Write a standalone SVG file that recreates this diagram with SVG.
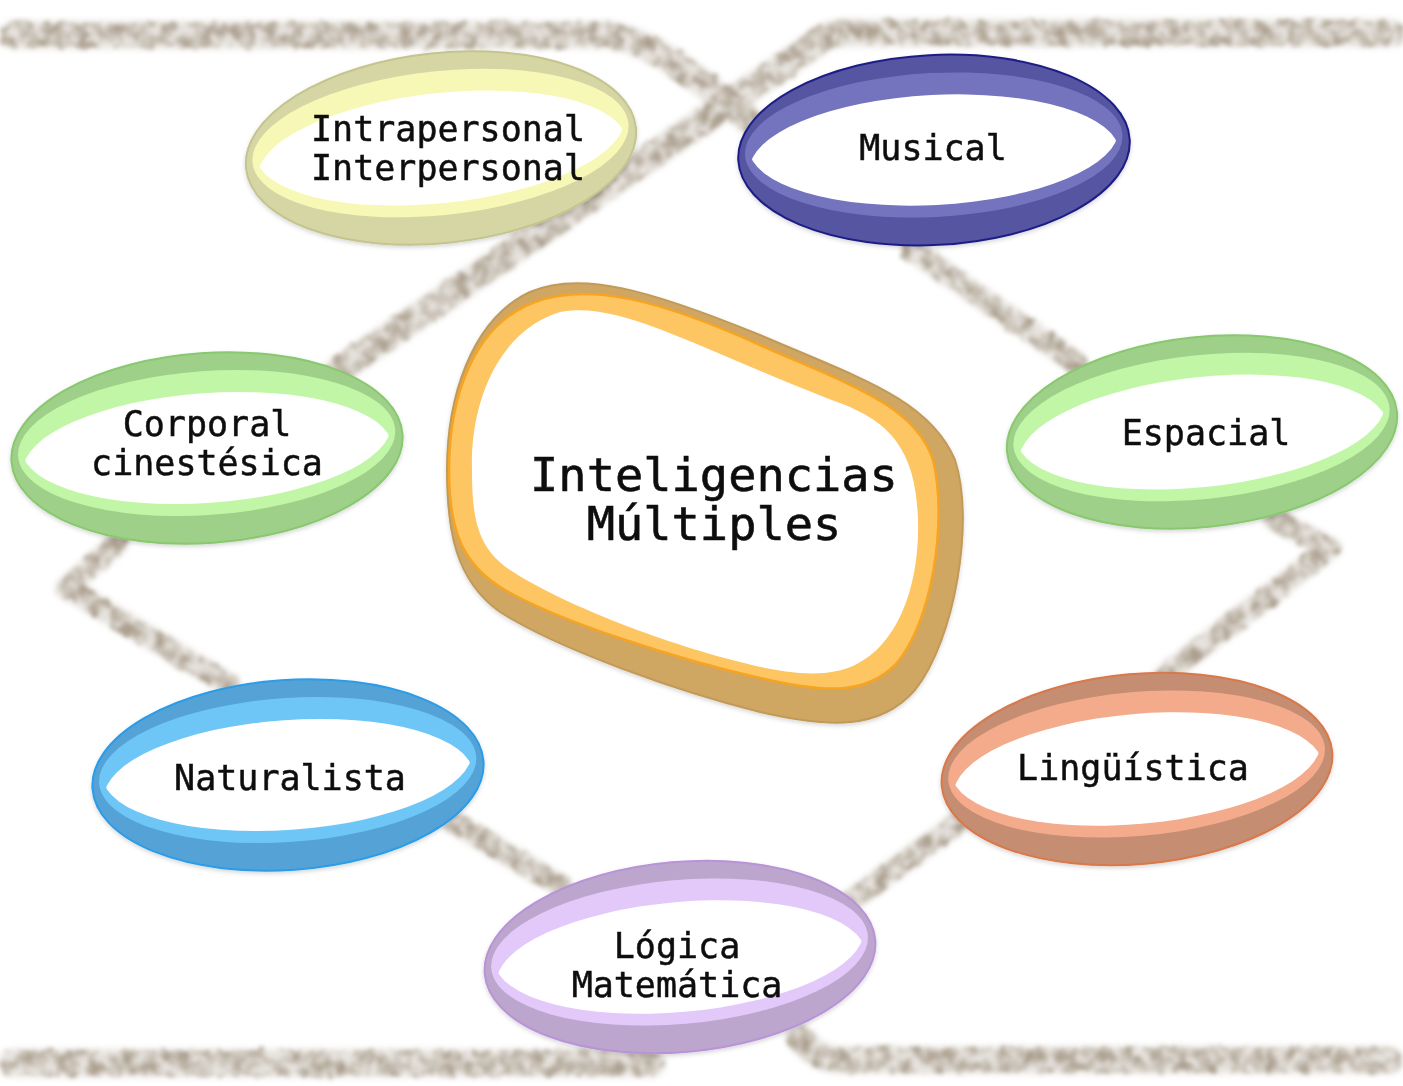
<svg xmlns="http://www.w3.org/2000/svg" width="1403" height="1086" viewBox="0 0 1403 1086">
  <defs>
    <style>
      .chalk{fill:none;stroke:#ab9f8e;stroke-linecap:round;stroke-linejoin:round}
      .wide{stroke-width:26}
      .thin{stroke-width:21}
      .lbl{font-family:"DejaVu Sans Mono","Liberation Mono",monospace;font-size:35px;fill:#111;stroke:#111;stroke-width:0.5;text-anchor:middle}
      .big{font-size:47px;stroke-width:0.6}
      .hole{fill:#fff}
      .yel .o{fill:#d6d6a5;stroke:#c4c48e}
      .yel .i{fill:#f8f8b6}
      .nav .o{fill:#5454a2;stroke:#1e1e86}
      .nav .i{fill:#7373be}
      .grn .o{fill:#9fd089;stroke:#88c86e}
      .grn .i{fill:#c1f6a6}
      .blu .o{fill:#55a3d6;stroke:#2a9ce8}
      .blu .i{fill:#6ec6f7}
      .brn .o{fill:#c58d72;stroke:#d9784a}
      .brn .i{fill:#f3ab8c}
      .lav .o{fill:#bda6cd;stroke:#b993d8}
      .lav .i{fill:#e3c9fa}
      .o{stroke-width:2}
    </style>
    <!-- upper half of the almond-shaped opening; intersected with the lower half below -->
    <clipPath id="lens"><ellipse cy="-11" rx="185" ry="66"/></clipPath>
    <!-- grainy chalk texture for the connecting strokes -->
    <filter id="chalk" filterUnits="userSpaceOnUse" x="0" y="0" width="1403" height="1086">
      <feTurbulence type="fractalNoise" baseFrequency="0.09 0.08" numOctaves="3" seed="7" result="noise"/>
      <feColorMatrix in="noise" type="matrix" values="0 0 0 0 0  0 0 0 0 0  0 0 0 0 0  2.5 0 0 0 -0.85" result="mask"/>
      <feComposite in="SourceGraphic" in2="mask" operator="in" result="grain"/>
      <feDisplacementMap in="grain" in2="noise" scale="10" xChannelSelector="G" yChannelSelector="B" result="shift"/>
      <feGaussianBlur in="shift" stdDeviation="1.9" result="g"/>
      <feGaussianBlur in="SourceGraphic" stdDeviation="3.5" result="soft"/>
      <feComponentTransfer in="soft" result="haze"><feFuncA type="linear" slope="0.3"/></feComponentTransfer>
      <feMerge><feMergeNode in="haze"/><feMergeNode in="g"/></feMerge>
    </filter>
    <filter id="shade" x="-10%" y="-10%" width="120%" height="125%">
      <feDropShadow dx="0" dy="2" stdDeviation="2" flood-color="#000" flood-opacity="0.16"/>
    </filter>
  </defs>

  <rect width="1403" height="1086" fill="#fff"/>

  <!-- chalk connectors -->
  <g id="connectors" filter="url(#chalk)">
    <path class="chalk wide" d="M 12 35 H 605 C 640 37 680 62 755 125"/>
    <path class="chalk wide" d="M 1392 33 H 845 C 830 33 822 37 812 46 L 335 373"/>
    <path class="chalk thin" d="M 912 250 L 1075 362"/>
    <path class="chalk thin" d="M 1275 520 L 1330 548 L 1165 675"/>
    <path class="chalk thin" d="M 118 542 L 67 588 L 228 684"/>
    <path class="chalk thin" d="M 452 822 L 560 885"/>
    <path class="chalk thin" d="M 852 900 L 962 820"/>
    <path class="chalk wide" d="M 12 1063 H 652"/>
    <path class="chalk wide" d="M 800 1038 C 812 1052 822 1060 845 1060 H 1390"/>
  </g>

  <!-- central node -->
  <g id="node-centro" filter="url(#shade)">
    <path d="M 447 470 C 447 400 470 320 530 292 C 580 270 650 290 760 335 C 860 378 930 400 955 460 C 975 520 955 640 915 690 C 880 730 830 728 760 712 C 680 692 560 650 500 612 C 455 580 447 530 447 470 Z" fill="#d0a664" stroke="#c29a58" stroke-width="2"/>
    <path d="M 449 470 C 449 400 472 325 535 302 C 590 282 660 300 760 345 C 850 385 915 405 933 460 C 948 520 932 625 895 665 C 865 695 825 693 760 678 C 680 660 560 622 505 590 C 462 565 449 530 449 470 Z" fill="#fdc664" stroke="#f6a421" stroke-width="2.5"/>
    <path class="hole" d="M 472 470 C 470 400 500 330 560 312 C 620 300 700 350 840 403 C 890 422 916 450 918 520 C 920 585 898 645 855 665 C 828 678 790 675 740 662 C 660 642 560 603 510 570 C 478 548 472 520 472 470 Z"/>
    <text class="lbl big" x="714" y="491">Inteligencias</text>
    <text class="lbl big" x="714" y="540">Múltiples</text>
  </g>

  <g id="node-intrapersonal" class="yel" filter="url(#shade)">
    <g transform="translate(441 148) rotate(-6)">
      <ellipse class="o" rx="196" ry="95"/>
      <ellipse class="i" cy="-5" rx="189" ry="72"/>
      <ellipse class="hole" cy="11" rx="185" ry="66" clip-path="url(#lens)"/>
    </g>
    <text class="lbl" x="448" y="141">Intrapersonal</text>
    <text class="lbl" x="448" y="180">Interpersonal</text>
  </g>

  <g id="node-musical" class="nav" filter="url(#shade)">
    <g transform="translate(934 150) rotate(-3)">
      <ellipse class="o" rx="196" ry="95"/>
      <ellipse class="i" cy="-5" rx="189" ry="72"/>
      <ellipse class="hole" cy="11" rx="185" ry="66" clip-path="url(#lens)"/>
    </g>
    <text class="lbl" x="933" y="160">Musical</text>
  </g>

  <g id="node-corporal" class="grn" filter="url(#shade)">
    <g transform="translate(207 448) rotate(-4)">
      <ellipse class="o" rx="196" ry="95"/>
      <ellipse class="i" cy="-5" rx="189" ry="72"/>
      <ellipse class="hole" cy="11" rx="185" ry="66" clip-path="url(#lens)"/>
    </g>
    <text class="lbl" x="207" y="436">Corporal</text>
    <text class="lbl" x="207" y="475">cinestésica</text>
  </g>

  <g id="node-espacial" class="grn" filter="url(#shade)">
    <g transform="translate(1202 432) rotate(-6)">
      <ellipse class="o" rx="196" ry="95"/>
      <ellipse class="i" cy="-5" rx="189" ry="72"/>
      <ellipse class="hole" cy="11" rx="185" ry="66" clip-path="url(#lens)"/>
    </g>
    <text class="lbl" x="1206" y="445">Espacial</text>
  </g>

  <g id="node-naturalista" class="blu" filter="url(#shade)">
    <g transform="translate(288 775) rotate(-4)">
      <ellipse class="o" rx="196" ry="95"/>
      <ellipse class="i" cy="-5" rx="189" ry="72"/>
      <ellipse class="hole" cy="11" rx="185" ry="66" clip-path="url(#lens)"/>
    </g>
    <text class="lbl" x="290" y="790">Naturalista</text>
  </g>

  <g id="node-linguistica" class="brn" filter="url(#shade)">
    <g transform="translate(1137 769) rotate(-5)">
      <ellipse class="o" rx="196" ry="95"/>
      <ellipse class="i" cy="-5" rx="189" ry="72"/>
      <ellipse class="hole" cy="11" rx="185" ry="66" clip-path="url(#lens)"/>
    </g>
    <text class="lbl" x="1133" y="780">Lingüística</text>
  </g>

  <g id="node-logica" class="lav" filter="url(#shade)">
    <g transform="translate(680 957) rotate(-5)">
      <ellipse class="o" rx="196" ry="95"/>
      <ellipse class="i" cy="-5" rx="189" ry="72"/>
      <ellipse class="hole" cy="11" rx="185" ry="66" clip-path="url(#lens)"/>
    </g>
    <text class="lbl" x="677" y="958">Lógica</text>
    <text class="lbl" x="677" y="997">Matemática</text>
  </g>
</svg>
